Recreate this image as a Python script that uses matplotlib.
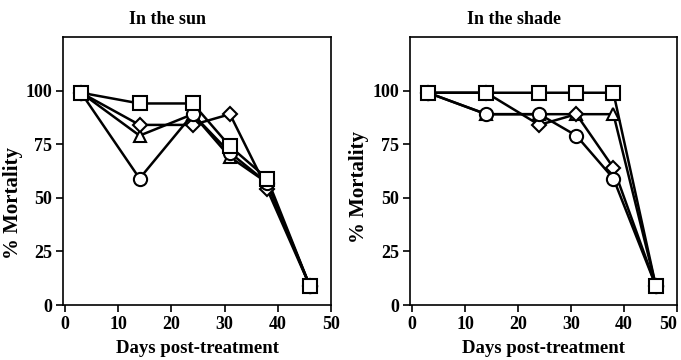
import matplotlib
matplotlib.use("Agg")
import matplotlib.pyplot as plt

plt.rcParams['font.family'] = ['Liberation Serif', 'DejaVu Serif']
plt.rcParams['font.weight'] = 'bold'

# days post-treatment
days_sun = [3, 14, 24, 31, 38, 46]
days_shade = [3, 14, 24, 31, 38, 46]

# % mortality, in the sun
sun_circle = [99, 59, 89, 71, 57, 9]
sun_triangle = [99, 79, 89, 69, 57, 9]
sun_diamond = [99, 84, 84, 89, 54, 9]
sun_square = [99, 94, 94, 74, 59, 9]

# % mortality, in the shade
shade_circle = [99, 89, 89, 79, 59, 9]
shade_triangle = [99, 89, 89, 89, 89, 9]
shade_diamond = [99, 99, 84, 89, 64, 9]
shade_square = [99, 99, 99, 99, 99, 9]

# drawing order: triangle, diamond, circle, square (square on top)
markers = ['^', 'D', 'o', 's']
msizes = [9, 7, 9.5, 10.5]

fig = plt.figure(figsize=(6.81, 3.6), dpi=100)
ax1 = fig.add_axes([63/681, 55/360, 268/681, 268/360])
ax2 = fig.add_axes([410/681, 55/360, 267/681, 268/360])

panels = [
    (ax1, days_sun, [sun_triangle, sun_diamond, sun_circle, sun_square], "In the sun", -0.15, 0.38),
    (ax2, days_shade, [shade_triangle, shade_diamond, shade_circle, shade_square], "In the shade", -0.155, 0.44),
]

for ax, days, series, title, lx, ly in panels:
    for ys in series:
        ax.plot(days, ys, color='black', lw=1.8, zorder=2)
    for ys, m, ms in zip(series, markers, msizes):
        ax.plot(days, ys, linestyle='none', marker=m, ms=ms, mfc='white',
                mec='black', mew=1.5, zorder=3)
    ax.set_xlim(-0.4, 50)
    ax.set_ylim(0, 125)
    ax.set_xticks([0, 10, 20, 30, 40, 50])
    ax.set_yticks([0, 25, 50, 75, 100])
    ax.tick_params(direction='out', length=5, width=1.2, labelsize=13, pad=3)
    for sp in ax.spines.values():
        sp.set_linewidth(1.2)
    ax.set_title(title, fontsize=13, fontweight='bold', x=0.39, pad=9)
    ax.set_xlabel("Days post-treatment", fontsize=13.5, fontweight='bold', labelpad=5)
    ax.set_ylabel("% Mortality", fontsize=15, fontweight='bold')
    ax.yaxis.set_label_coords(lx, ly)

# keep the last "50" of the right panel inside the figure
ax2.get_xticklabels()[-1].set_horizontalalignment('right')

fig.savefig("out.png", dpi=100)
